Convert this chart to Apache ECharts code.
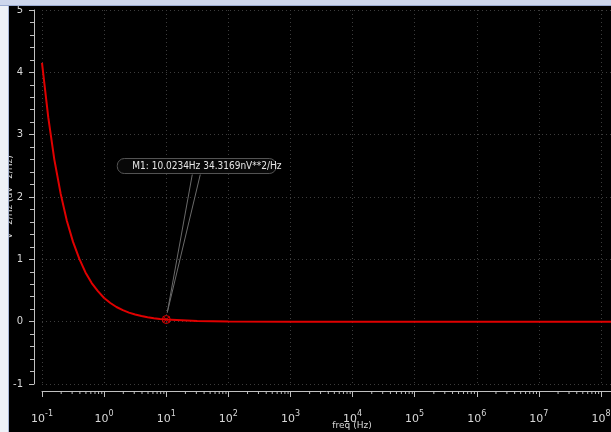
<!DOCTYPE html>
<html>
<head>
<meta charset="utf-8">
<script src="https://cdn.jsdelivr.net/npm/echarts@6/dist/echarts.min.js"></script>
<style>
html,body{margin:0;padding:0;background:#000;}
#c{width:611px;height:432px;}
</style>
</head>
<body>
<div id="c"></div>
<script>
// ---- data ----
const freqs = [0.1, 0.126, 0.158, 0.2, 0.251, 0.316, 0.398, 0.501, 0.631, 0.794,
               1, 1.26, 1.58, 2, 2.51, 3.16, 3.98, 5.01, 6.31, 7.94,
               10.02, 31.6, 100, 1000, 1e4, 1e5, 1e6, 1e7, 1e8, 1.45e8];
const psd   = [4.15, 3.28, 2.60, 2.05, 1.62, 1.28, 1.01, 0.79, 0.62, 0.49,
               0.38, 0.30, 0.235, 0.185, 0.145, 0.115, 0.09, 0.071, 0.056, 0.044,
               0.0343, 0.011, 0.0034, 0.0003, 0.00003, 0, 0, 0, 0, 0];
const markerFreq = 10.0234;
const markerVal = 0.0343169;
const markerText = 'M1: 10.0234Hz 34.3169nV**2/Hz';
const xName = 'freq (Hz)';
const yName = 'V^2/Hz (uV^2/Hz)';
const yTicks = [-1, 0, 1, 2, 3, 4, 5];
const decades = [-1, 0, 1, 2, 3, 4, 5, 6, 7];
const minorMult = [2, 3, 4, 5, 6, 7, 8, 9];

const minorX = [];
decades.forEach(d => minorMult.forEach(m => minorX.push(m * Math.pow(10, d))));

const lineData = freqs.map((f, i) => [f, psd[i]]);

const chart = echarts.init(document.getElementById('c'), null, {renderer: 'canvas'});
const labelColor = '#d8d8d8';
const axisColor = '#c0c0c0';
const gridColor = '#3c3c3c';

chart.setOption({
  backgroundColor: '#000000',
  animation: false,
  grid: {left: 42, right: 0, top: 10, bottom: 48, containLabel: false, outerBoundsMode: 'none'},
  xAxis: {
    type: 'log', logBase: 10, min: 0.1, max: 1.45e8, interval: 1,
    offset: 7,
    axisLine: {show: true, onZero: false, lineStyle: {color: axisColor, width: 1}},
    axisTick: {show: true, length: 6, lineStyle: {color: axisColor}},
    minorTick: {show: false},
    axisLabel: {
      color: labelColor, margin: 19, fontFamily: 'DejaVu Sans',
      showMaxLabel: false,
      formatter: function (v) {
        const e = Math.log10(v);
        if (Math.abs(e - Math.round(e)) > 1e-6) return '';
        return '{b|10}{s|' + Math.round(e) + '}';
      },
      rich: {
        b: {fontSize: 11, color: labelColor, fontFamily: 'DejaVu Sans'},
        s: {fontSize: 8, color: labelColor, fontFamily: 'DejaVu Sans', padding: [0, 0, 10, 0]}
      }
    },
    splitLine: {show: true, lineStyle: {color: gridColor, type: [1, 3]}}
  },
  yAxis: {
    type: 'value', min: yTicks[0], max: yTicks[yTicks.length - 1], interval: 1,
    offset: 8,
    axisLine: {show: true, onZero: false, lineStyle: {color: axisColor, width: 1}},
    axisTick: {show: true, length: 5, lineStyle: {color: axisColor}},
    minorTick: {show: true, splitNumber: 5, length: 4, lineStyle: {color: axisColor}},
    axisLabel: {color: labelColor, margin: 11, fontFamily: 'DejaVu Sans', fontSize: 10},
    splitLine: {show: true, lineStyle: {color: gridColor, type: [1, 3]}}
  },
  series: [
    {
      type: 'line', data: lineData, showSymbol: false,
      lineStyle: {color: '#e00000', width: 2},
      z: 3
    },
    {
      type: 'custom', data: minorX.map(v => [v, -1]), clip: false, silent: true,
      renderItem: function (params, api) {
        const p = api.coord([api.value(0), api.value(1)]);
        return {
          type: 'line',
          shape: {x1: p[0] + 0.5, y1: p[1] + 7, x2: p[0] + 0.5, y2: p[1] + 10},
          style: {stroke: axisColor, lineWidth: 1}
        };
      }
    },
    {
      type: 'custom', data: [[markerFreq, markerVal]], clip: false, silent: true, z: 10,
      renderItem: function (params, api) {
        const p = api.coord([api.value(0), api.value(1)]);
        const x = p[0], y = p[1];
        return {
          type: 'group',
          children: [
            {type: 'polyline', shape: {points: [[x + 26, y - 145], [x + 1, y - 7], [x + 34, y - 145]]},
             style: {stroke: '#6a6a6a', lineWidth: 1, fill: null}},
            {type: 'rect', shape: {x: x - 49, y: y - 161, width: 159, height: 15, r: 7},
             style: {fill: '#080808', stroke: '#555555', lineWidth: 1}},
            {type: 'text', x: x - 34, y: y - 153.5,
             style: {text: markerText, fill: '#e6e6e6', font: '10px "DejaVu Sans Condensed", "DejaVu Sans"',
                     verticalAlign: 'middle', align: 'left'}},
            {type: 'circle', shape: {cx: x, cy: y, r: 4},
             style: {stroke: '#e00000', fill: null, lineWidth: 1}},
            {type: 'line', shape: {x1: x - 3, y1: y - 3, x2: x + 3, y2: y + 3},
             style: {stroke: '#e00000', lineWidth: 1}},
            {type: 'line', shape: {x1: x - 3, y1: y + 3, x2: x + 3, y2: y - 3},
             style: {stroke: '#e00000', lineWidth: 1}}
          ]
        };
      }
    }
  ],
  graphic: [
    {type: 'text', x: 352, y: 426, z: 50,
     style: {text: xName, fill: labelColor, font: '9px "DejaVu Sans"', align: 'center', verticalAlign: 'middle'}},
    {type: 'text', x: 10, y: 197, rotation: Math.PI / 2, z: 50,
     style: {text: yName, fill: labelColor, font: '9px "DejaVu Sans"', align: 'center', verticalAlign: 'middle'}},
    {type: 'rect', left: 0, top: 0, shape: {width: 8, height: 432}, style: {fill: '#eef1f7'}, z: 100},
    {type: 'rect', left: 8, top: 0, shape: {width: 1, height: 432}, style: {fill: '#a9b7d6'}, z: 100},
    {type: 'rect', left: 0, top: 0, shape: {width: 611, height: 5}, style: {fill: '#cdd6ec'}, z: 100},
    {type: 'rect', left: 0, top: 5, shape: {width: 611, height: 1}, style: {fill: '#9aabd2'}, z: 100}
  ]
});
</script>
</body>
</html>
